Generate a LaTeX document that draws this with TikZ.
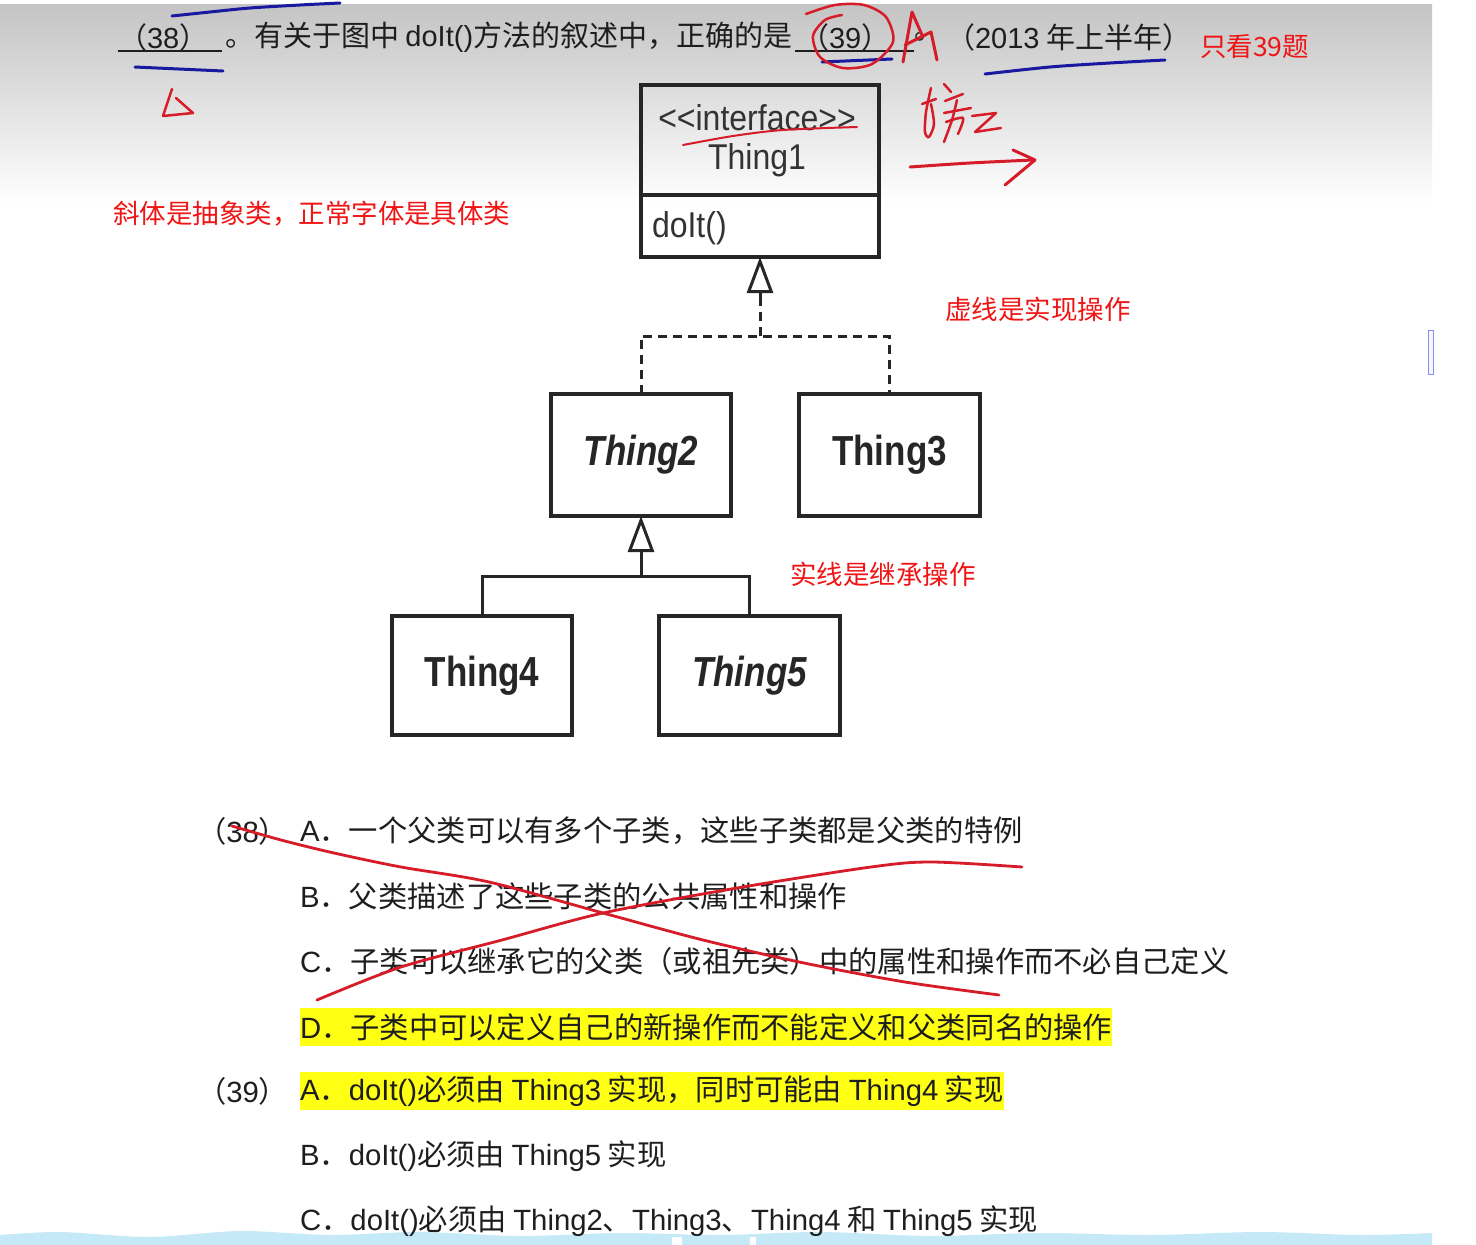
\documentclass[tikz,border=0pt]{standalone}
\usepackage{fontspec}
\usepackage{graphicx}
\setmainfont{Noto Sans CJK SC}
\newfontfamily\arial{Liberation Sans}
\usetikzlibrary{arrows.meta}
\definecolor{redink}{RGB}{214,28,40}
\definecolor{blueink}{RGB}{25,25,160}
\definecolor{redtxt}{RGB}{240,20,20}
\definecolor{txt}{RGB}{30,30,30}
\definecolor{hl}{RGB}{255,255,20}
\definecolor{bgtop}{RGB}{196,196,196}
\definecolor{wave}{RGB}{198,233,248}
\newcommand\lat[1]{{\arial #1}}
\begin{document}
\begin{tikzpicture}[x=1pt,y=-1pt,
  every node/.style={inner sep=0pt, outer sep=0pt},
  hdr/.style={anchor=west, font=\fontsize{29}{29}\selectfont, text=txt},
  opt/.style={anchor=west, font=\fontsize{29.3}{29.3}\selectfont, text=txt},
  note/.style={anchor=west, font=\fontsize{26.5}{26.5}\selectfont, text=redtxt},
  umlbox/.style={draw=black!85, line width=3.5pt},
  umlname/.style={font=\arial\bfseries\fontsize{35}{35}\selectfont, text=black!85},
  umlitname/.style={font=\arial\bfseries\itshape\fontsize{35}{35}\selectfont, text=black!85},
  umltxt/.style={font=\arial\fontsize{32}{32}\selectfont, text=black!80},
  conn/.style={line width=3pt, draw=black!85},
  gen/.style={-{Triangle[open, length=36pt, width=26pt]}},
  ink/.style={line width=3pt, line cap=round, line join=round},
]
\useasboundingbox (0,0) rectangle (1476,1245);
\fill[white] (0,0) rectangle (1476,1245);
\shade[top color=bgtop, bottom color=white] (0,4) rectangle (1432,205);
\fill[white] (0,0) rectangle (1432,4);
% bottom wave
\fill[wave] plot[smooth] coordinates {(0,1235) (60,1232) (150,1237) (240,1231) (330,1235) (420,1232) (520,1236) (620,1233) (720,1235) (820,1232) (930,1236) (1040,1233) (1150,1235) (1260,1232) (1360,1235) (1432,1233)} -- (1432,1245) -- (0,1245) -- cycle;
\fill[white] (672,1237) rectangle (682,1245);
\fill[white] (750,1237) rectangle (756,1245);
\draw[blue!45, fill=gray!6, line width=1pt] (1428,330) rectangle (1433,374);

% header
\node[hdr] (h38) at (118,37) {（\lat{38}）};
\node[hdr] (hq) at (225,37) {。有关于图中 \lat{doIt()}方法的叙述中，正确的是};
\node[hdr] (h39) at (800,37) {（\lat{39}）};
\node[hdr] (hdot) at (914,37) {。};
\node[hdr] (hyear) at (946,37) {（\lat{2013} 年上半年）};
\draw[line width=2pt, txt] (118,51) -- (222,51);
\draw[line width=2pt, txt] (795,51) -- (914,51);
\node[note] (only) at (1200,47) {只看39题};

% red notes
\node[note] (n1) at (113,214) {斜体是抽象类，正常字体是具体类};
\node[note] (n2) at (945,309) {虚线是实现操作};
\node[note] (n3) at (790,574) {实线是继承操作};

% UML
\node[umlbox, minimum width=238pt, minimum height=172pt] (t1) at (760,171) {};
\draw[line width=3.5pt, black!85] (641,195) -- (879,195);
\node[umltxt] (t1s) at (757,118) {\scalebox{1}[1.12]{<<interface>>}};
\node[umltxt] (t1n) at (757,160) {\scalebox{1}[1.12]{Thing1}};
\node[umltxt, anchor=west] (t1m) at (652,228) {\scalebox{1}[1.12]{doIt()}};

\node[umlbox, minimum width=180pt, minimum height=122pt] (t2) at (641,455) {};
\node[umlitname] at (t2) {\scalebox{1}[1.2]{Thing2}};
\node[umlbox, minimum width=181pt, minimum height=122pt] (t3) at (889.5,455) {};
\node[umlname] at (t3) {\scalebox{1}[1.2]{Thing3}};
\node[umlbox, minimum width=180pt, minimum height=119pt] (t4) at (482,675.5) {};
\node[umlname] at (t4) {\scalebox{1}[1.2]{Thing4}};
\node[umlbox, minimum width=181pt, minimum height=119pt] (t5) at (749.5,675.5) {};
\node[umlitname] at (t5) {\scalebox{1}[1.2]{Thing5}};

\coordinate (jr) at (760,336);
\coordinate (jg) at (641,576);
\draw[conn, dash pattern=on 9pt off 6pt] (t2.north) |- (jr) -| (t3.north);
\draw[conn, dash pattern=on 9pt off 6pt] (jr) -- (760,297);
\draw[conn, gen] (760,298) -- (t1.south);
\draw[conn] (t4.north) |- (jg) -| (t5.north);
\draw[conn, gen] (jg) -- (t2.south);

% options
\node[opt] (o38) at (197,831) {（\lat{38}）};
\node[opt] (o38a) at (300,831) {\lat{A}．一个父类可以有多个子类，这些子类都是父类的特例};
\node[opt] (o38b) at (300,896) {\lat{B}．父类描述了这些子类的公共属性和操作};
\node[opt] (o38c) at (300,961) {\lat{C}．子类可以继承它的父类（或祖先类）中的属性和操作而不必自己定义};
\node[opt, fill=hl, minimum height=38pt] (o38d) at (300,1027) {\lat{D}．子类中可以定义自己的新操作而不能定义和父类同名的操作};
\node[opt] (o39) at (197,1091) {（\lat{39}）};
\node[opt, fill=hl, minimum height=38pt] (o39a) at (300,1091) {\lat{A}．\lat{doIt()}必须由 \lat{Thing3} 实现，同时可能由 \lat{Thing4} 实现};
\node[opt] (o39b) at (300,1156) {\lat{B}．\lat{doIt()}必须由 \lat{Thing5} 实现};
\node[opt] (o39c) at (300,1221) {\lat{C}．\lat{doIt()}必须由 \lat{Thing2}、\lat{Thing3}、\lat{Thing4} 和 \lat{Thing5} 实现};

% handwriting - blue
\draw[ink, blueink] plot[smooth] coordinates {(172,16) (210,12) (250,8) (300,5) (340,3)};
\draw[ink, blueink] (135,67) -- (223,71);
\draw[ink, blueink] (822,62) -- (892,59);
\draw[ink, blueink] plot[smooth] coordinates {(985,74) (1050,67) (1110,63) (1165,60)};
% handwriting - red
\draw[ink, redink, line width=2.5pt] (172,89) -- (163,116) -- (193,113) -- (176,98);
\draw[ink, redink, line width=2.5pt] plot[smooth] coordinates {(842,15) (825,20) (813,36) (820,57) (843,68) (872,64) (893,42) (886,17) (864,5) (835,5) (806,14)};
\draw[ink, redink] (903,62) -- (912,12) -- (922,35);
\draw[ink, redink] (905,45) -- (931,32) -- (937,60);
\draw[ink, redink, line width=2pt] plot[smooth] coordinates {(683,145) (733,136) (783,130) (857,127)};
% 接口 scribble
\draw[ink, redink, line width=2.5pt] (922,104) -- (936,99);
\draw[ink, redink, line width=2.5pt] plot[smooth] coordinates {(931,88) (926,112) (925,132) (929,137) (934,124) (931,104)};
\draw[ink, redink, line width=2.5pt] (944,84) -- (951,92);
\draw[ink, redink, line width=2.5pt] (945,101) -- (963,94);
\draw[ink, redink, line width=2.5pt] (944,113) -- (971,108);
\draw[ink, redink, line width=2.5pt] plot[smooth] coordinates {(957,100) (952,120) (944,142)};
\draw[ink, redink, line width=2.5pt] plot[smooth] coordinates {(946,122) (963,118) (958,134)};
\draw[ink, redink, line width=2.5pt] (972,116) -- (996,113) -- (975,132) -- (1001,128);
% arrow
\draw[ink, redink] plot[smooth] coordinates {(910,167) (970,163) (1033,160)};
\draw[ink, redink] (1013,150) -- (1035,160) -- (1005,185);
% big X
\draw[ink, redink, line width=2.8pt] plot[smooth] coordinates {(232,826) (281,840) (334,853) (401,867) (489,882) (603,913) (703,940) (804,963) (905,982) (999,995)};
\draw[ink, redink, line width=2.8pt] plot[smooth] coordinates {(317,1000) (401,967) (502,940) (603,913) (737,888) (871,867) (931,862) (1022,867)};
\end{tikzpicture}
\end{document}
